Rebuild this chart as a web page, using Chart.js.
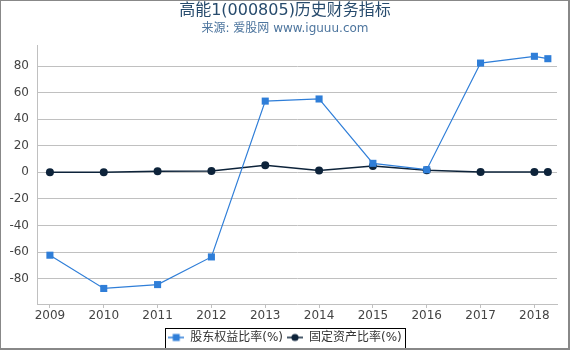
<!DOCTYPE html>
<html>
<head>
<meta charset="utf-8">
<script src="https://cdn.jsdelivr.net/npm/chart.js@4/dist/chart.umd.min.js"></script>
<style>
  body { margin: 0; background: #fff; }
  #wrap { position: relative; width: 570px; height: 350px; }
  #frame { position: absolute; left: 0; top: 0; width: 570px; height: 350px; box-sizing: border-box;
           border-style: solid; border-color: #888; border-width: 1px 2px 2px 1px; pointer-events: none; }
</style>
</head>
<body>
<div id="wrap">
  <canvas id="chart" width="570" height="350"></canvas>
  <div id="frame"></div>
</div>
<script>
// 연도 (마지막 점은 2018년 1분기)
const years = [2009, 2010, 2011, 2012, 2013, 2014, 2015, 2016, 2017, 2018, 2018.25];
const yearTicks = [2009, 2010, 2011, 2012, 2013, 2014, 2015, 2016, 2017, 2018];
const yTicks = [-80, -60, -40, -20, 0, 20, 40, 60, 80];

// 股东权益比率(%)
const equityRatio = [-62.3, -87.3, -84.4, -63.6, 53.6, 55.2, 6.8, 2.0, 82.2, 87.3, 85.5];
// 固定资产比率(%)
const fixedRatio = [0.1, 0.1, 0.8, 1.0, 5.3, 1.5, 4.7, 1.6, 0.2, 0.2, 0.2];

const seriesNames = ['股东权益比率(%)', '固定资产比率(%)'];
const seriesColors = ['#2f7ed8', '#0d233a'];

const FONT = '"DejaVu Sans", "Noto Sans CJK SC", sans-serif';

// 범례 아이콘 (선 + 마커)
function makeIcon(color, shape) {
    const c = document.createElement('canvas');
    c.width = 16; c.height = 10;
    const g = c.getContext('2d');
    g.strokeStyle = color;
    g.lineWidth = 1.5;
    g.beginPath(); g.moveTo(0, 5); g.lineTo(16, 5); g.stroke();
    g.fillStyle = color;
    if (shape === 'rect') {
        g.fillRect(4.5, 1.5, 7, 7);
    } else {
        g.beginPath(); g.arc(8, 5, 3.6, 0, Math.PI * 2); g.fill();
    }
    return c;
}
const icons = [makeIcon(seriesColors[0], 'rect'), makeIcon(seriesColors[1], 'circle')];

// 범례 테두리
const legendBorder = {
    id: 'legendBorder',
    afterDraw(chart) {
        const boxes = chart.legend.legendHitBoxes;
        if (!boxes || !boxes.length) return;
        const left = Math.min(...boxes.map(b => b.left)) - 3;
        const right = Math.max(...boxes.map(b => b.left + b.width)) + 3;
        const top = boxes[0].top - 4;
        const ctx = chart.ctx;
        ctx.save();
        ctx.strokeStyle = '#000';
        ctx.lineWidth = 1;
        ctx.strokeRect(Math.round(left) + 0.5, Math.round(top) + 0.5, Math.round(right - left), 30);
        ctx.restore();
    }
};

const toPoints = vals => vals.map((v, i) => ({ x: years[i], y: v }));

new Chart(document.getElementById('chart'), {
    type: 'line',
    data: {
        datasets: [{
            label: seriesNames[0],
            data: toPoints(equityRatio),
            borderColor: seriesColors[0],
            backgroundColor: seriesColors[0],
            borderWidth: 1.2,
            pointStyle: 'rect',
            pointRadius: 5,
            pointBorderWidth: 0,
            tension: 0
        }, {
            label: seriesNames[1],
            data: toPoints(fixedRatio),
            borderColor: seriesColors[1],
            backgroundColor: seriesColors[1],
            borderWidth: 1.5,
            pointStyle: 'circle',
            pointRadius: 4,
            pointBorderWidth: 0,
            tension: 0
        }]
    },
    options: {
        responsive: false,
        animation: false,
        layout: { padding: { left: 0, right: 0, top: 0, bottom: -3.5 } },
        plugins: {
            title: {
                display: true,
                text: '高能1(000805)历史财务指标',
                color: '#274b6d',
                font: { family: FONT, size: 16, weight: 'normal' },
                padding: { top: 1.4, bottom: 0 }
            },
            subtitle: {
                display: true,
                text: '来源: 爱股网 www.iguuu.com',
                color: '#4d759e',
                font: { family: FONT, size: 12, weight: 'normal' },
                padding: { top: 1.2, bottom: 8.8 }
            },
            legend: {
                position: 'bottom',
                labels: {
                    usePointStyle: true,
                    pointStyleWidth: 16,
                    padding: 4,
                    color: '#333',
                    font: { family: FONT, size: 12 },
                    generateLabels(chart) {
                        const items = Chart.defaults.plugins.legend.labels.generateLabels(chart);
                        items.forEach((it, i) => { it.pointStyle = icons[i]; });
                        return items;
                    }
                }
            },
            tooltip: { enabled: false }
        },
        scales: {
            x: {
                type: 'linear',
                min: 2008.76,
                max: 2018.42,
                afterBuildTicks: axis => { axis.ticks = yearTicks.map(v => ({ value: v })); },
                afterFit: scale => { scale.height = 23.5; },
                ticks: {
                    autoSkip: false,
                    maxRotation: 0,
                    padding: 1,
                    color: '#444',
                    font: { family: FONT, size: 12 },
                    callback: v => String(v)
                },
                grid: { drawOnChartArea: false, drawTicks: true, tickLength: 4, color: '#c0c0c0' },
                border: { display: true, color: '#c0c0c0' }
            },
            y: {
                min: -99,
                max: 95.8,
                afterBuildTicks: axis => { axis.ticks = yTicks.map(v => ({ value: v })); },
                afterFit: scale => { scale.width = 37; },
                ticks: {
                    padding: 8,
                    color: '#444',
                    font: { family: FONT, size: 12 }
                },
                grid: { color: '#c0c0c0', drawTicks: false },
                border: { display: true, color: '#c0c0c0' }
            },
            // 오른쪽 여백용 빈 축
            yRight: {
                position: 'right',
                min: -99,
                max: 95.8,
                afterFit: scale => { scale.width = 13; },
                ticks: { display: false },
                grid: { drawOnChartArea: false, drawTicks: false },
                border: { display: false }
            }
        }
    },
    plugins: [legendBorder]
});
</script>
</body>
</html>
